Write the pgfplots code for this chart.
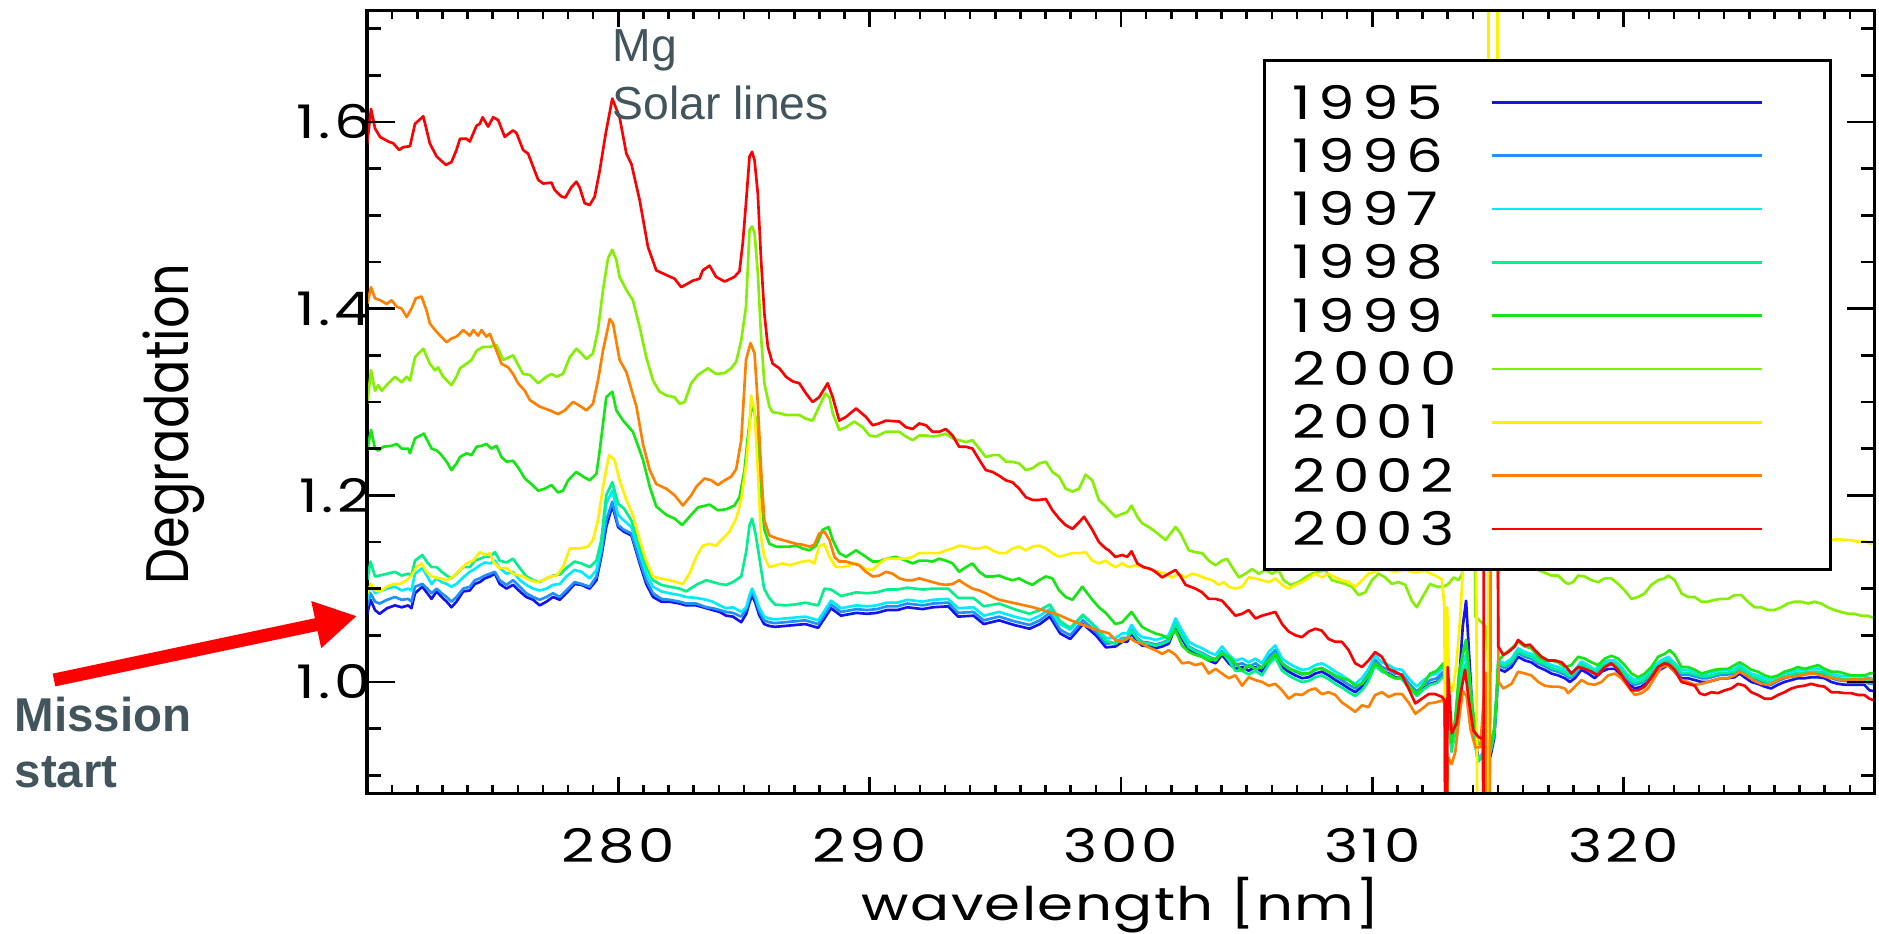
\documentclass[border=0pt]{standalone}
\usepackage{pgfplots}
\pgfplotsset{compat=1.18}
\usepackage{pgfplotstable}
\usepackage{fontspec}
\usetikzlibrary{arrows.meta}
\newfontfamily\idlfont[FakeStretch=1.25, Numbers=Monospaced, LetterSpace=8]{Poppins}
\newfontfamily\idlleg[FakeStretch=1.25, Numbers=Monospaced, LetterSpace=16]{Poppins}
\newfontfamily\idlwide[FakeStretch=1.25, LetterSpace=3]{Poppins}
\newfontfamily\idlnarrow[FakeStretch=0.85]{Poppins}
\newfontfamily\arialfont{Liberation Sans}
\definecolor{c95}{RGB}{20,20,235}
\definecolor{c96}{RGB}{30,144,255}
\definecolor{c97}{RGB}{0,235,255}
\definecolor{c98}{RGB}{0,240,140}
\definecolor{c99}{RGB}{20,230,20}
\definecolor{c00}{RGB}{130,240,0}
\definecolor{c01}{RGB}{255,240,0}
\definecolor{c02}{RGB}{255,128,0}
\definecolor{c03}{RGB}{255,0,0}
\definecolor{slate}{RGB}{66,84,92}

% 1995-1998 degradation spectra (they run close together)
\pgfplotstableread{
x a95 a96 a97 a98
270.01 1.073 1.082 1.088 1.109
270.14 1.088 1.095 1.105 1.129
270.32 1.077 1.086 1.095 1.113
270.50 1.073 1.084 1.097 1.114
270.80 1.079 1.088 1.100 1.116
271.11 1.082 1.091 1.102 1.118
271.38 1.080 1.088 1.098 1.114
271.64 1.082 1.089 1.100 1.116
271.77 1.079 1.086 1.098 1.114
271.91 1.095 1.102 1.116 1.130
272.20 1.102 1.105 1.122 1.136
272.40 1.095 1.100 1.113 1.128
272.57 1.089 1.095 1.105 1.123
272.77 1.097 1.100 1.111 1.123
272.97 1.091 1.095 1.107 1.118
273.17 1.086 1.091 1.105 1.114
273.36 1.080 1.086 1.102 1.111
273.56 1.086 1.091 1.105 1.116
273.83 1.097 1.100 1.112 1.123
274.09 1.098 1.102 1.118 1.123
274.29 1.105 1.109 1.121 1.130
274.49 1.107 1.111 1.125 1.132
274.69 1.111 1.114 1.128 1.134
274.89 1.113 1.116 1.127 1.134
275.09 1.116 1.118 1.130 1.139
275.28 1.105 1.109 1.122 1.130
275.55 1.100 1.104 1.116 1.128
275.81 1.104 1.109 1.118 1.132
276.08 1.097 1.102 1.109 1.122
276.34 1.091 1.095 1.104 1.113
276.61 1.088 1.091 1.100 1.109
276.87 1.082 1.088 1.098 1.107
277.14 1.086 1.091 1.100 1.111
277.40 1.091 1.095 1.104 1.114
277.67 1.088 1.091 1.105 1.115
277.93 1.095 1.098 1.113 1.122
278.26 1.105 1.107 1.120 1.129
278.53 1.104 1.105 1.118 1.127
278.86 1.100 1.102 1.111 1.123
279.13 1.109 1.113 1.120 1.130
279.32 1.134 1.138 1.145 1.152
279.52 1.166 1.173 1.191 1.200
279.76 1.189 1.193 1.205 1.214
279.99 1.166 1.168 1.179 1.191
280.22 1.161 1.163 1.173 1.186
280.52 1.157 1.159 1.166 1.173
280.85 1.127 1.130 1.138 1.145
281.11 1.105 1.109 1.116 1.123
281.38 1.091 1.095 1.102 1.109
281.71 1.086 1.089 1.097 1.104
282.04 1.086 1.088 1.095 1.102
282.44 1.084 1.086 1.093 1.100
282.70 1.082 1.084 1.091 1.097
283.10 1.082 1.084 1.090 1.104
283.50 1.079 1.080 1.088 1.109
283.76 1.077 1.079 1.086 1.107
284.03 1.075 1.077 1.082 1.105
284.29 1.071 1.075 1.079 1.104
284.56 1.070 1.074 1.080 1.107
284.89 1.064 1.070 1.075 1.113
285.09 1.073 1.078 1.080 1.140
285.22 1.085 1.090 1.093 1.168
285.32 1.093 1.097 1.100 1.175
285.45 1.085 1.089 1.092 1.160
285.60 1.072 1.076 1.080 1.135
285.80 1.062 1.066 1.070 1.100
286.00 1.060 1.064 1.068 1.090
286.23 1.059 1.063 1.067 1.083
286.63 1.060 1.064 1.068 1.082
287.03 1.061 1.065 1.069 1.083
287.44 1.062 1.066 1.070 1.085
287.95 1.058 1.062 1.066 1.082
288.20 1.068 1.072 1.076 1.100
288.46 1.079 1.083 1.087 1.099
288.86 1.071 1.075 1.079 1.092
289.47 1.074 1.078 1.082 1.096
289.90 1.073 1.077 1.081 1.095
290.28 1.074 1.078 1.082 1.096
290.69 1.077 1.081 1.085 1.099
291.10 1.077 1.081 1.085 1.099
291.50 1.080 1.084 1.088 1.101
292.11 1.078 1.082 1.086 1.099
292.51 1.080 1.084 1.088 1.100
293.12 1.081 1.085 1.089 1.100
293.52 1.070 1.074 1.079 1.090
294.13 1.071 1.075 1.080 1.090
294.54 1.062 1.066 1.071 1.081
295.15 1.066 1.070 1.075 1.084
295.75 1.061 1.065 1.070 1.078
296.36 1.057 1.061 1.066 1.073
296.77 1.062 1.066 1.071 1.077
297.17 1.070 1.074 1.078 1.083
297.58 1.052 1.056 1.062 1.065
297.98 1.046 1.050 1.056 1.058
298.49 1.062 1.066 1.071 1.072
299.00 1.050 1.054 1.059 1.058
299.40 1.037 1.041 1.047 1.044
299.78 1.038 1.042 1.047 1.041
300.05 1.043 1.047 1.052 1.046
300.25 1.043 1.047 1.052 1.046
300.42 1.052 1.056 1.061 1.055
300.65 1.043 1.047 1.052 1.046
300.84 1.039 1.043 1.048 1.042
301.11 1.038 1.042 1.047 1.041
301.37 1.036 1.040 1.045 1.039
301.64 1.038 1.042 1.047 1.041
301.90 1.041 1.045 1.050 1.044
302.17 1.059 1.063 1.068 1.062
302.43 1.046 1.050 1.055 1.049
302.70 1.034 1.038 1.043 1.037
302.96 1.030 1.034 1.039 1.033
303.23 1.027 1.031 1.036 1.030
303.49 1.023 1.027 1.032 1.026
303.76 1.020 1.024 1.029 1.023
304.02 1.029 1.033 1.038 1.032
304.29 1.020 1.024 1.029 1.023
304.55 1.014 1.018 1.023 1.012
304.82 1.016 1.020 1.025 1.012
305.08 1.012 1.016 1.021 1.008
305.35 1.016 1.020 1.025 1.012
305.61 1.011 1.015 1.020 1.007
305.88 1.023 1.027 1.032 1.019
306.14 1.030 1.034 1.039 1.026
306.41 1.016 1.020 1.025 1.012
306.67 1.011 1.015 1.020 1.007
306.94 1.007 1.011 1.016 1.003
307.20 1.004 1.008 1.013 1.000
307.47 1.005 1.009 1.014 1.001
307.73 1.009 1.013 1.018 1.005
307.99 1.011 1.015 1.020 1.007
308.26 1.007 1.011 1.016 1.003
308.53 1.002 1.006 1.011 0.998
308.79 0.998 1.002 1.007 0.994
309.06 0.993 0.997 1.002 0.989
309.32 0.989 0.993 0.998 0.985
309.59 0.995 0.999 1.004 0.991
309.85 1.005 1.009 1.014 1.001
310.11 1.020 1.024 1.029 1.018
310.38 1.012 1.016 1.021 1.011
310.65 1.009 1.013 1.018 1.008
310.91 1.005 1.009 1.014 1.004
311.18 1.004 1.008 1.013 1.003
311.44 0.995 0.999 1.004 0.994
311.77 0.986 0.990 0.995 0.985
312.04 0.993 0.997 1.002 0.992
312.30 0.998 1.002 1.007 0.997
312.57 1.000 1.004 1.009 0.999
312.83 1.007 1.011 1.016 1.006
312.93 1.000 1.004 1.008 1.000
313.00 0.960 0.965 0.970 0.960
313.15 0.930 0.935 0.940 0.925
313.30 0.950 0.955 0.960 0.945
313.45 1.000 1.000 1.000 0.990
313.60 1.060 1.030 1.020 1.010
313.73 1.087 1.045 1.030 1.020
313.85 1.030 1.010 1.000 0.995
314.00 0.960 0.955 0.950 0.950
314.20 0.920 0.915 0.915 0.915
314.40 0.920 0.920 0.925 0.920
314.55 0.950 0.950 0.955 0.950
314.70 0.920 0.925 0.930 0.925
314.85 0.940 0.945 0.950 0.945
314.95 0.980 0.985 0.990 0.985
315.01 1.014 1.018 1.023 1.020
315.27 1.011 1.015 1.020 1.017
315.54 1.016 1.020 1.025 1.022
315.80 1.027 1.031 1.036 1.033
316.07 1.023 1.027 1.032 1.029
316.33 1.021 1.025 1.030 1.027
316.60 1.016 1.020 1.025 1.022
316.86 1.013 1.017 1.022 1.019
317.13 1.009 1.013 1.018 1.015
317.39 1.007 1.011 1.016 1.013
317.66 1.004 1.008 1.013 1.010
317.86 1.000 1.004 1.009 1.006
318.06 1.004 1.008 1.013 1.010
318.32 1.013 1.017 1.022 1.019
318.59 1.009 1.013 1.018 1.015
318.85 1.004 1.008 1.013 1.010
319.12 1.011 1.015 1.020 1.017
319.38 1.014 1.018 1.023 1.020
319.65 1.014 1.018 1.023 1.020
319.91 1.007 1.011 1.016 1.013
320.18 0.998 1.002 1.007 1.004
320.44 0.993 0.997 1.002 0.999
320.71 0.995 0.999 1.004 1.001
320.97 1.000 1.004 1.009 1.006
321.24 1.009 1.013 1.018 1.015
321.50 1.014 1.018 1.023 1.020
321.77 1.018 1.022 1.027 1.024
322.03 1.011 1.015 1.020 1.017
322.30 1.004 1.008 1.013 1.010
322.56 1.004 1.008 1.013 1.010
322.83 1.002 1.006 1.011 1.008
323.09 1.000 1.004 1.009 1.006
323.35 1.000 1.004 1.009 1.006
323.62 1.002 1.006 1.011 1.008
323.88 1.004 1.008 1.013 1.010
324.15 1.004 1.008 1.013 1.010
324.41 1.005 1.009 1.014 1.011
324.61 1.009 1.013 1.018 1.015
324.81 1.005 1.009 1.014 1.011
325.08 1.000 1.004 1.009 1.006
325.34 0.998 1.002 1.007 1.004
325.61 0.995 0.999 1.004 1.001
325.87 0.993 0.997 1.002 0.999
326.14 0.997 1.001 1.006 1.003
326.40 1.000 1.004 1.009 1.006
326.67 1.002 1.006 1.011 1.008
326.93 1.004 1.008 1.013 1.010
327.20 1.004 1.008 1.013 1.010
327.46 1.005 1.009 1.014 1.011
327.73 1.005 1.009 1.014 1.011
327.99 1.004 1.008 1.013 1.010
328.26 1.000 1.004 1.009 1.006
328.52 0.998 1.002 1.007 1.004
328.79 0.997 1.001 1.006 1.003
329.05 0.997 1.001 1.006 1.003
329.32 0.997 1.001 1.006 1.003
329.58 0.997 1.001 1.006 1.003
329.78 0.991 0.998 1.004 1.000
330.00 0.990 0.998 1.003 1.000
}\bundle

\begin{document}
\begin{tikzpicture}[x=0.3pt, y=0.3pt]
\useasboundingbox (-367,-140) rectangle (1512,793);
\begin{axis}[
  name=main, at={(0,0)}, anchor=south west,
  scale only axis, width=452.4pt, height=234.75pt,
  xmin=270, xmax=330, ymin=0.881, ymax=1.7194,
  axis line style={line width=0.9pt},
  tick style={line width=0.75pt, black},
  major tick length=4.8pt, minor tick length=2.4pt,
  xtick={270,280,290,300,310,320,330},
  xticklabels={,280,290,300,310,320,},
  minor x tick num=9,
  ytick=\empty,
  xticklabel style={font=\idlfont\fontsize{13.9}{16}\selectfont, anchor=base, inner sep=0pt, yshift=-20.7pt},
  every axis plot/.append style={line width=0.8pt, line join=round, no markers},
]
\addplot[c95] table[x=x,y=a95]{\bundle};
\addplot[c96] table[x=x,y=a96]{\bundle};
\addplot[c97] table[x=x,y=a97]{\bundle};
\addplot[c98] table[x=x,y=a98]{\bundle};
% 1999
\addplot[c99] coordinates {
(270.01,1.248)(270.16,1.270)(270.32,1.250)(270.45,1.248)(270.65,1.252)(270.98,1.253)(271.18,1.255)(271.38,1.250)(271.64,1.250)(271.71,1.245)(271.91,1.261)(272.26,1.266)(272.57,1.250)(272.77,1.248)(272.90,1.245)(273.17,1.236)(273.36,1.227)(273.56,1.234)(273.70,1.241)(273.96,1.245)(274.16,1.243)(274.36,1.252)(274.56,1.253)(274.75,1.255)(274.95,1.250)(275.15,1.253)(275.35,1.241)(275.55,1.236)(275.81,1.237)(276.01,1.230)(276.28,1.218)(276.54,1.212)(276.81,1.205)(277.07,1.207)(277.34,1.211)(277.60,1.203)(277.80,1.205)(278.00,1.216)(278.33,1.225)(278.60,1.220)(278.86,1.216)(279.13,1.223)(279.26,1.248)(279.52,1.305)(279.76,1.311)(279.92,1.291)(280.19,1.280)(280.58,1.268)(280.85,1.248)
(280.98,1.238)(281.25,1.209)(281.51,1.188)(281.91,1.179)(282.24,1.175)(282.54,1.168)(282.83,1.177)(283.17,1.187)(283.63,1.190)(283.96,1.184)(284.29,1.185)(284.62,1.189)(284.82,1.198)(285.02,1.227)(285.15,1.262)
(285.32,1.300)(285.48,1.280)(285.61,1.223)(285.81,1.163)(286.01,1.148)(286.28,1.145)(286.54,1.145)(286.81,1.145)(287.07,1.146)(287.34,1.143)(287.60,1.141)(287.87,1.146)(288.13,1.163)(288.37,1.166)(288.53,1.152)(288.79,1.138)(289.06,1.134)(289.46,1.141)(289.85,1.134)(290.12,1.129)(290.38,1.129)(290.65,1.132)(291.04,1.134)(291.44,1.130)(291.71,1.127)(291.97,1.130)(292.24,1.130)(292.50,1.129)(292.77,1.132)(293.03,1.130)(293.30,1.127)(293.56,1.118)(293.83,1.123)(294.09,1.127)(294.36,1.118)(294.62,1.113)(294.89,1.113)(295.15,1.114)(295.42,1.111)(295.68,1.109)(295.95,1.111)(296.21,1.107)(296.48,1.104)(296.74,1.109)(297.01,1.113)(297.27,1.111)(297.54,1.098)(297.80,1.091)(298.07,1.088)(298.46,1.102)(298.86,1.088)(299.12,1.080)(299.39,1.074)
(299.52,1.070)(299.78,1.062)(300.05,1.064)(300.25,1.070)(300.42,1.075)(300.65,1.066)(300.84,1.059)(301.11,1.055)(301.37,1.052)(301.64,1.050)(301.90,1.046)(302.17,1.055)(302.43,1.039)(302.70,1.032)(302.96,1.029)(303.23,1.027)(303.49,1.023)(303.76,1.025)(304.02,1.030)(304.29,1.027)(304.55,1.020)(304.82,1.012)(305.08,1.018)(305.35,1.014)(305.61,1.016)(305.88,1.023)(306.14,1.030)(306.41,1.020)(306.67,1.014)(306.94,1.012)(307.20,1.009)(307.47,1.009)(307.73,1.014)(307.99,1.014)(308.26,1.011)(308.53,1.007)(308.79,1.004)(309.06,1.002)(309.32,0.996)(309.59,0.998)(309.85,1.007)(310.11,1.020)(310.38,1.014)(310.65,1.007)(310.91,1.004)(311.18,1.005)(311.44,0.996)(311.77,0.987)(312.04,0.998)(312.30,1.009)(312.57,1.012)(312.83,1.020)
(312.93,1.000)(313.00,0.965)(313.15,0.935)(313.30,0.960)(313.45,1.010)(313.60,1.030)(313.73,1.045)(313.85,1.010)(314.00,0.970)(314.20,0.935)(314.40,0.930)(314.55,0.960)(314.70,0.930)(314.85,0.950)(314.95,0.990)
(315.01,1.023)(315.27,1.030)(315.54,1.036)(315.80,1.043)(316.07,1.038)(316.33,1.036)(316.60,1.027)(316.86,1.023)(317.13,1.023)(317.39,1.021)(317.66,1.016)(317.92,1.018)(318.19,1.027)(318.45,1.025)(318.72,1.021)(318.98,1.018)(319.25,1.025)(319.51,1.028)(319.78,1.025)(320.04,1.018)(320.31,1.009)(320.57,1.005)(320.84,1.009)(321.10,1.016)(321.37,1.027)(321.63,1.030)(321.83,1.034)(322.03,1.029)(322.30,1.016)(322.56,1.016)(322.83,1.013)(323.09,1.009)(323.35,1.011)(323.62,1.013)(323.88,1.014)(324.15,1.014)(324.41,1.018)(324.61,1.021)(324.81,1.018)(325.08,1.013)(325.34,1.011)(325.61,1.007)(325.87,1.005)(326.14,1.007)(326.40,1.011)(326.67,1.013)(326.93,1.016)(327.20,1.014)(327.46,1.016)(327.73,1.018)(327.99,1.014)(328.26,1.011)(328.52,1.011)(328.79,1.009)(329.05,1.007)(329.32,1.007)(329.58,1.007)(329.78,1.009)(330.00,1.010)
};
% 2000
\addplot[c00] coordinates {
(270.01,1.298)(270.16,1.334)(270.32,1.312)(270.45,1.318)(270.58,1.312)(270.85,1.320)(271.11,1.327)(271.38,1.321)(271.58,1.327)(271.71,1.323)(271.91,1.348)(272.24,1.357)(272.50,1.341)(272.70,1.334)(272.83,1.337)(273.03,1.327)(273.36,1.318)(273.56,1.327)(273.70,1.336)(273.96,1.341)(274.16,1.345)(274.36,1.355)(274.62,1.359)(274.89,1.359)(275.15,1.361)(275.42,1.345)(275.81,1.350)(276.21,1.330)(276.48,1.329)(276.81,1.320)(277.14,1.327)(277.34,1.330)(277.54,1.327)(277.80,1.330)(278.07,1.348)(278.33,1.357)(278.53,1.352)(278.73,1.346)(278.99,1.352)(279.19,1.377)(279.39,1.420)(279.59,1.454)(279.76,1.463)(279.92,1.452)(280.05,1.434)(280.32,1.420)(280.58,1.409)(280.85,1.380)(281.11,1.348)(281.38,1.323)(281.64,1.311)(281.91,1.307)(282.24,1.305)(282.44,1.298)(282.64,1.300)(282.90,1.320)(283.17,1.329)(283.56,1.336)(283.89,1.330)(284.23,1.331)(284.49,1.336)(284.69,1.343)(284.89,1.366)
(285.08,1.402)(285.22,1.484)(285.32,1.488)(285.42,1.481)(285.55,1.438)(285.68,1.370)(285.81,1.320)(286.01,1.295)(286.14,1.289)(286.41,1.288)(286.67,1.286)(286.94,1.286)(287.20,1.286)(287.47,1.282)(287.73,1.280)(287.99,1.295)(288.24,1.309)(288.40,1.305)(288.53,1.288)(288.79,1.270)(289.06,1.273)(289.39,1.279)(289.72,1.273)(289.99,1.264)(290.25,1.263)(290.65,1.268)(291.18,1.268)(291.44,1.263)(291.71,1.259)(291.97,1.264)(292.24,1.264)(292.50,1.263)(292.77,1.264)(293.03,1.266)(293.30,1.261)(293.56,1.259)(293.83,1.257)(294.09,1.259)(294.36,1.250)(294.62,1.241)(294.89,1.243)(295.15,1.243)(295.42,1.236)(295.68,1.236)(295.95,1.234)(296.21,1.227)(296.48,1.229)(296.74,1.234)(297.01,1.236)(297.27,1.225)(297.54,1.220)(297.80,1.207)(298.07,1.204)(298.33,1.207)(298.59,1.222)(298.86,1.216)(299.12,1.195)(299.39,1.188)
(299.52,1.184)(299.78,1.177)(300.05,1.180)(300.25,1.182)(300.42,1.189)(300.65,1.177)(300.84,1.170)(301.11,1.166)(301.37,1.161)(301.64,1.155)(301.77,1.152)(301.97,1.159)(302.17,1.166)(302.37,1.159)(302.70,1.141)(302.96,1.139)(303.23,1.138)(303.49,1.130)(303.76,1.125)(304.02,1.130)(304.22,1.132)(304.42,1.123)(304.69,1.112)(304.95,1.116)(305.22,1.121)(305.48,1.116)(305.75,1.120)(306.01,1.116)(306.27,1.120)(306.47,1.109)(306.74,1.104)(307.07,1.107)(307.33,1.112)(307.60,1.116)(307.86,1.118)(308.13,1.120)(308.39,1.109)(308.66,1.107)(308.92,1.105)(309.19,1.102)(309.45,1.093)(309.72,1.096)(309.98,1.109)(310.25,1.116)(310.51,1.112)(310.78,1.105)(311.04,1.107)(311.31,1.104)(311.57,1.087)(311.77,1.080)(312.04,1.093)(312.30,1.105)(312.57,1.102)(312.83,1.102)(313.03,1.105)(313.24,1.112)(313.43,1.109)
(313.56,1.115)(313.65,1.130)(313.70,1.400)(314.05,1.400)(314.10,1.070)(314.30,1.065)(314.50,1.060)(314.60,1.030)(314.65,1.000)(314.68,1.130)(315.00,1.130)(315.50,1.130)(316.00,1.125)(316.30,1.122)
(316.60,1.120)(316.86,1.117)(317.13,1.114)(317.39,1.114)(317.66,1.107)(317.79,1.105)(317.99,1.107)(318.19,1.114)(318.45,1.113)(318.72,1.109)(318.98,1.107)(319.25,1.111)(319.51,1.111)(319.78,1.105)(320.04,1.098)(320.31,1.089)(320.57,1.091)(320.84,1.095)(321.10,1.104)(321.37,1.109)(321.63,1.111)(321.77,1.114)(322.03,1.109)(322.30,1.095)(322.56,1.091)(322.83,1.091)(323.09,1.086)(323.35,1.086)(323.62,1.088)(323.88,1.089)(324.15,1.089)(324.41,1.093)(324.68,1.093)(324.94,1.086)(325.21,1.080)(325.47,1.080)(325.74,1.077)(326.00,1.077)(326.27,1.080)(326.53,1.084)(326.80,1.086)(327.06,1.086)(327.33,1.084)(327.59,1.086)(327.86,1.084)(328.12,1.080)(328.39,1.077)(328.65,1.075)(328.92,1.073)(329.18,1.073)(329.45,1.071)(329.71,1.071)(330.00,1.068)
};
% 2001
\addplot[c01] coordinates {
(270.01,1.095)(270.16,1.105)(270.32,1.098)(270.52,1.097)(270.78,1.102)(271.05,1.105)(271.31,1.105)(271.58,1.109)(271.77,1.114)(271.97,1.123)(272.17,1.127)(272.37,1.118)(272.57,1.113)(272.90,1.111)(273.17,1.109)(273.43,1.113)(273.70,1.120)(273.96,1.127)(274.23,1.130)(274.49,1.139)(274.69,1.136)(274.89,1.138)(275.02,1.129)(275.28,1.122)(275.55,1.122)(275.81,1.116)(276.21,1.113)(276.48,1.109)(276.74,1.107)(277.01,1.109)(277.27,1.113)(277.54,1.114)(277.80,1.123)(278.07,1.143)(278.46,1.143)(278.79,1.145)(278.99,1.152)(279.19,1.173)(279.39,1.209)(279.63,1.243)(279.85,1.238)(280.05,1.216)(280.32,1.195)(280.58,1.179)(280.85,1.152)(281.11,1.130)(281.38,1.113)(281.64,1.111)(282.04,1.109)(282.30,1.107)(282.57,1.105)(282.83,1.116)(283.10,1.134)(283.36,1.146)(283.63,1.148)(283.89,1.146)(284.09,1.152)(284.42,1.161)(284.69,1.175)(284.89,1.195)(285.09,1.234)(285.22,1.273)
(285.28,1.307)(285.42,1.291)(285.55,1.227)(285.68,1.155)(285.81,1.134)(286.01,1.123)(286.28,1.125)(286.54,1.127)(286.81,1.125)(287.07,1.127)(287.34,1.129)(287.60,1.130)(287.80,1.127)(287.99,1.145)(288.20,1.148)(288.40,1.134)(288.66,1.123)(288.93,1.123)(289.19,1.125)(289.46,1.127)(289.85,1.121)(290.12,1.120)(290.38,1.127)(290.65,1.132)(291.04,1.132)(291.44,1.132)(291.71,1.134)(291.97,1.138)(292.24,1.138)(292.50,1.138)(292.77,1.138)(293.03,1.141)(293.30,1.143)(293.56,1.146)(293.83,1.145)(294.09,1.143)(294.36,1.143)(294.62,1.145)(294.89,1.141)(295.15,1.138)(295.42,1.138)(295.68,1.143)(295.95,1.145)(296.21,1.141)(296.48,1.145)(296.74,1.146)(297.01,1.143)(297.27,1.138)(297.54,1.134)(297.80,1.136)(298.07,1.138)(298.33,1.138)(298.59,1.139)(298.86,1.130)(299.12,1.127)(299.39,1.130)
(299.52,1.127)(299.78,1.123)(300.05,1.127)(300.31,1.123)(300.58,1.125)(300.84,1.123)(301.24,1.120)(301.50,1.118)(301.77,1.116)(302.04,1.112)(302.30,1.116)(302.57,1.112)(302.83,1.116)(303.10,1.114)(303.36,1.111)(303.63,1.109)(303.89,1.104)(304.09,1.107)(304.29,1.102)(304.55,1.100)(304.82,1.102)(305.08,1.112)(305.35,1.111)(305.61,1.109)(305.88,1.107)(306.14,1.111)(306.41,1.104)(306.67,1.100)(306.94,1.104)(307.20,1.107)(307.47,1.111)(307.73,1.116)(307.99,1.112)(308.26,1.116)(308.53,1.112)(308.79,1.109)(309.06,1.107)(309.32,1.102)(309.59,1.109)(309.85,1.116)(310.11,1.118)(310.50,1.121)(310.90,1.118)(311.30,1.120)(311.70,1.117)(312.10,1.119)(312.50,1.114)(312.77,1.110)
(312.87,1.080)(312.90,0.800)(312.95,0.800)(312.98,1.080)(313.05,1.000)(313.20,0.990)(313.35,1.020)(313.50,1.070)(313.62,1.130)(313.70,1.400)(314.10,1.400)(314.18,0.800)(314.60,0.800)(314.64,2.500)(314.95,2.500)(315.00,1.130)
(316.00,1.135)(317.00,1.140)(318.00,1.138)(319.00,1.140)(320.00,1.135)(321.00,1.140)(322.00,1.145)(323.00,1.142)(324.00,1.140)(325.00,1.145)(326.00,1.148)(327.00,1.150)(328.00,1.150)(328.26,1.152)(328.52,1.153)(328.79,1.152)(329.05,1.152)(329.32,1.150)(329.58,1.151)(329.85,1.148)(330.00,1.150)
};
% 2002
\addplot[c02] coordinates {
(270.01,1.405)(270.16,1.423)(270.32,1.411)(270.52,1.409)(270.78,1.405)(270.98,1.409)(271.18,1.402)(271.38,1.400)(271.58,1.391)(271.77,1.400)(271.94,1.411)(272.17,1.413)(272.37,1.398)(272.50,1.384)(272.77,1.375)(273.17,1.364)(273.36,1.368)(273.56,1.370)(273.83,1.377)(274.09,1.371)(274.23,1.377)(274.42,1.371)(274.56,1.377)(274.75,1.370)(274.89,1.373)(275.09,1.359)(275.35,1.341)(275.62,1.337)(275.81,1.330)(276.01,1.320)(276.28,1.312)(276.48,1.302)(276.87,1.295)(277.27,1.291)(277.60,1.287)(277.87,1.291)(278.20,1.300)(278.46,1.296)(278.73,1.291)(278.99,1.298)(279.19,1.323)(279.39,1.355)(279.66,1.389)(279.79,1.384)(280.05,1.345)(280.32,1.332)(280.72,1.295)(280.98,1.255)(281.25,1.227)(281.51,1.212)(281.91,1.207)(282.24,1.200)(282.57,1.189)(282.90,1.200)(283.10,1.209)(283.43,1.218)(283.70,1.216)(283.96,1.211)(284.23,1.216)(284.49,1.220)(284.69,1.228)(284.89,1.259)
(285.08,1.345)(285.26,1.363)(285.42,1.352)(285.55,1.298)(285.68,1.227)(285.81,1.173)(286.01,1.157)(286.28,1.154)(286.54,1.152)(286.81,1.150)(287.07,1.148)(287.34,1.147)(287.60,1.145)(287.80,1.147)(287.99,1.159)(288.20,1.161)(288.40,1.152)(288.60,1.134)(288.79,1.129)(289.06,1.129)(289.32,1.127)(289.59,1.125)(289.85,1.118)(290.12,1.113)(290.38,1.114)(290.65,1.118)(290.91,1.116)(291.18,1.111)(291.44,1.109)(291.71,1.109)(291.97,1.111)(292.24,1.109)(292.50,1.107)(292.77,1.105)(293.03,1.104)(293.30,1.105)(293.56,1.109)(293.83,1.104)(294.09,1.100)(294.36,1.098)(294.62,1.095)(294.89,1.091)(295.15,1.088)(295.50,1.086)(296.00,1.083)(296.50,1.080)(297.00,1.076)(297.50,1.072)(298.00,1.066)(298.50,1.061)(299.00,1.056)
(299.52,1.052)(299.78,1.045)(300.05,1.043)(300.31,1.048)(300.58,1.043)(300.84,1.041)(301.11,1.037)(301.37,1.034)(301.64,1.030)(301.90,1.034)(302.17,1.029)(302.43,1.020)(302.70,1.021)(302.96,1.018)(303.23,1.020)(303.49,1.009)(303.76,1.014)(304.02,1.009)(304.29,1.004)(304.55,1.007)(304.82,0.996)(305.08,1.005)(305.35,1.002)(305.61,1.000)(305.88,0.996)(306.14,0.998)(306.41,0.991)(306.67,0.982)(306.94,0.987)(307.20,0.986)(307.47,0.991)(307.73,0.993)(307.99,0.987)(308.26,0.989)(308.53,0.986)(308.79,0.978)(309.06,0.973)(309.32,0.968)(309.59,0.975)(309.85,0.973)(310.11,0.986)(310.38,0.989)(310.65,0.984)(310.91,0.987)(311.18,0.987)(311.44,0.978)(311.71,0.966)(311.97,0.971)(312.24,0.977)(312.50,0.978)(312.77,0.980)
(312.88,0.978)(312.91,0.800)(312.96,0.800)(313.00,0.920)(313.16,0.912)(313.30,0.925)(313.45,0.960)(313.60,0.990)(313.75,0.985)(313.90,0.950)(314.10,0.930)(314.30,0.930)(314.50,1.010)(314.53,0.800)(314.66,0.800)(314.70,1.020)(314.72,1.400)(314.96,1.400)
(315.02,1.000)(315.21,0.993)(315.54,0.998)(315.80,1.011)(316.07,1.009)(316.33,1.007)(316.60,1.000)(316.86,0.996)(317.13,0.995)(317.39,0.995)(317.66,0.993)(317.79,0.988)(317.99,0.993)(318.32,1.002)(318.59,0.998)(318.85,0.997)(319.12,1.000)(319.38,1.007)(319.65,1.009)(319.91,1.004)(320.18,0.995)(320.44,0.986)(320.71,0.988)(320.97,0.993)(321.24,1.005)(321.50,1.016)(321.77,1.018)(322.03,1.011)(322.30,1.002)(322.56,1.000)(322.83,0.997)(323.09,0.998)(323.35,1.000)(323.62,1.002)(323.88,1.004)(324.15,1.004)(324.41,1.007)(324.61,1.011)(324.88,1.007)(325.14,1.002)(325.47,0.998)(325.74,0.997)(326.00,1.000)(326.27,1.004)(326.53,1.005)(326.80,1.006)(327.06,1.007)(327.33,1.009)(327.59,1.009)(327.86,1.007)(328.12,1.005)(328.39,1.004)(328.65,1.002)(328.92,1.002)(329.18,1.003)(329.45,1.002)(329.71,1.004)(330.00,1.000)
};
% 2003
\addplot[c03] coordinates {
(270.00,1.575)(270.16,1.614)(270.32,1.593)(270.52,1.584)(270.85,1.579)(271.05,1.577)(271.28,1.570)(271.44,1.573)(271.71,1.574)(271.91,1.598)(272.24,1.606)(272.50,1.577)(272.77,1.563)(273.14,1.554)(273.36,1.557)(273.56,1.570)(273.70,1.582)(273.96,1.582)(274.09,1.579)(274.36,1.596)(274.49,1.598)(274.60,1.605)(274.82,1.595)(275.02,1.605)(275.22,1.602)(275.48,1.584)(275.81,1.591)(275.95,1.588)(276.21,1.570)(276.41,1.566)(276.61,1.552)(276.81,1.538)(277.01,1.534)(277.34,1.535)(277.47,1.527)(277.74,1.520)(277.89,1.519)(278.13,1.530)(278.33,1.536)(278.46,1.530)(278.66,1.513)(278.86,1.511)(279.06,1.520)(279.26,1.548)(279.50,1.588)(279.76,1.625)(280.05,1.605)(280.32,1.566)(280.52,1.555)(280.85,1.516)(281.18,1.466)(281.51,1.441)(281.91,1.436)(282.24,1.432)(282.50,1.423)(282.77,1.427)(282.97,1.430)(283.23,1.432)(283.36,1.441)(283.63,1.446)(283.89,1.434)(284.23,1.429)(284.62,1.434)(284.82,1.440)(284.95,1.470)
(285.08,1.513)(285.22,1.563)(285.32,1.568)(285.42,1.559)(285.55,1.523)(285.68,1.452)(285.81,1.395)(285.95,1.359)(286.14,1.341)(286.41,1.336)(286.67,1.327)(286.94,1.322)(287.20,1.320)(287.47,1.309)(287.73,1.300)(287.99,1.305)(288.33,1.320)(288.53,1.305)(288.79,1.280)(289.06,1.284)(289.46,1.293)(289.85,1.284)(290.12,1.275)(290.38,1.277)(290.65,1.280)(291.18,1.279)(291.44,1.273)(291.71,1.271)(291.97,1.277)(292.24,1.275)(292.50,1.268)(292.77,1.268)(293.03,1.271)(293.30,1.264)(293.56,1.252)(293.83,1.252)(294.09,1.250)(294.36,1.238)(294.62,1.227)(294.89,1.225)(295.15,1.221)(295.42,1.216)(295.68,1.214)(295.95,1.207)(296.21,1.198)(296.48,1.195)(296.74,1.195)(297.01,1.196)(297.27,1.184)(297.54,1.175)(297.80,1.168)(298.07,1.164)(298.33,1.171)(298.53,1.177)(298.86,1.163)(299.12,1.150)(299.39,1.143)
(299.52,1.141)(299.78,1.134)(300.05,1.136)(300.25,1.134)(300.42,1.140)(300.65,1.127)(300.91,1.123)(301.18,1.121)(301.37,1.118)(301.64,1.112)(301.90,1.116)(302.17,1.120)(302.37,1.113)(302.57,1.104)(302.96,1.100)(303.23,1.096)(303.49,1.089)(303.76,1.089)(304.02,1.087)(304.29,1.079)(304.55,1.071)(304.82,1.073)(305.08,1.077)(305.35,1.068)(305.61,1.071)(305.88,1.073)(306.14,1.075)(306.41,1.062)(306.67,1.054)(306.94,1.050)(307.20,1.048)(307.47,1.054)(307.73,1.057)(307.99,1.055)(308.26,1.046)(308.53,1.043)(308.79,1.043)(309.06,1.034)(309.32,1.020)(309.59,1.016)(309.85,1.023)(310.11,1.032)(310.38,1.027)(310.65,1.014)(310.91,1.011)(311.18,1.007)(311.44,0.993)(311.71,0.977)(311.97,0.982)(312.24,0.987)(312.50,0.987)(312.77,0.984)
(312.88,0.980)(312.91,0.800)(312.96,0.800)(313.00,1.016)(313.16,0.945)(313.36,0.956)(313.49,0.984)(313.69,1.013)(313.82,0.984)(314.02,0.948)(314.22,0.941)(314.40,0.939)(314.42,0.800)(314.45,1.500)(314.96,1.500)
(315.01,1.038)(315.21,1.029)(315.41,1.032)(315.67,1.038)(315.80,1.045)(316.07,1.039)(316.27,1.040)(316.47,1.034)(316.73,1.027)(317.00,1.023)(317.26,1.023)(317.53,1.021)(317.72,1.016)(317.92,1.009)(318.19,1.016)(318.45,1.014)(318.72,1.011)(318.98,1.007)(319.25,1.016)(319.51,1.020)(319.78,1.013)(320.04,1.002)(320.31,0.991)(320.57,0.991)(320.84,0.995)(321.10,1.005)(321.37,1.016)(321.63,1.020)(321.83,1.018)(322.03,1.013)(322.30,1.000)(322.56,0.998)(322.83,0.996)(323.02,0.988)(323.22,0.986)(323.49,0.989)(323.75,0.988)(324.02,0.991)(324.28,0.993)(324.55,0.998)(324.81,0.996)(325.08,0.989)(325.34,0.986)(325.61,0.982)(325.87,0.982)(326.14,0.986)(326.40,0.989)(326.67,0.993)(326.93,0.995)(327.20,0.996)(327.46,0.998)(327.73,0.996)(327.99,0.995)(328.26,0.989)(328.52,0.989)(328.79,0.988)(329.05,0.988)(329.32,0.986)(329.58,0.986)(329.78,0.982)(330.00,0.980)
};
\end{axis}
% second axis carries the y ticks, which are longer than the x ticks
\begin{axis}[
  at={(0,0)}, anchor=south west,
  scale only axis, width=452.4pt, height=234.75pt,
  xmin=270, xmax=330, ymin=0.881, ymax=1.7194,
  axis line style={line width=0.9pt},
  tick style={line width=0.75pt, black},
  major tick length=8.4pt, minor tick length=4.2pt,
  xtick=\empty,
  ytick={0.8,1.0,1.2,1.4,1.6,1.8},
  yticklabels={0.8,1.0,1.2,1.4,1.6,1.8},
  minor y tick num=3,
  yticklabel style={font=\idlfont\fontsize{13.9}{16}\selectfont, anchor=east, inner sep=0pt, xshift=1.4pt},
]
\end{axis}
% axis titles
\node[font=\idlwide\fontsize{13.9}{16}\selectfont, anchor=base] at (754,-127) {wavelength [nm]};
\node[font=\idlnarrow\fontsize{18}{20}\selectfont, rotate=90, anchor=base] at (-178,369) {Degradation};
% annotations
\node[font=\arialfont\fontsize{13.9}{16}\selectfont, text=slate, anchor=base west, inner sep=0pt] at (245,731.3) {Mg};
\node[font=\arialfont\fontsize{13.9}{16}\selectfont, text=slate, anchor=base west, inner sep=0pt] at (245,673.7) {Solar lines};
\node[font=\arialfont\bfseries\fontsize{14.25}{16}\selectfont, text=slate, anchor=base west, inner sep=0pt] at (-353,62) {Mission};
\node[font=\arialfont\bfseries\fontsize{14.25}{16}\selectfont, text=slate, anchor=base west, inner sep=0pt] at (-353,6) {start};
\draw[red, line width=3.9pt, -{Triangle[length=12.5pt, width=13.5pt]}] (-313,113) -- (-10,177);
% legend
\draw[line width=0.9pt, fill=white] (897,224) rectangle (1463,733);
\foreach \yr/\col [count=\k from 0] in {1995/c95,1996/c96,1997/c97,1998/c98,1999/c99,2000/c00,2001/c01,2002/c02,2003/c03} {
  \node[font=\idlleg\fontsize{13.9}{16}\selectfont, anchor=west, inner sep=0pt] at (924.7,{691-53.3*\k}) {\yr};
  \draw[\col, line width=0.8pt] (1124.7,{690.5-53.3*\k}) -- (1395,{690.5-53.3*\k});
}
\end{tikzpicture}
\end{document}
